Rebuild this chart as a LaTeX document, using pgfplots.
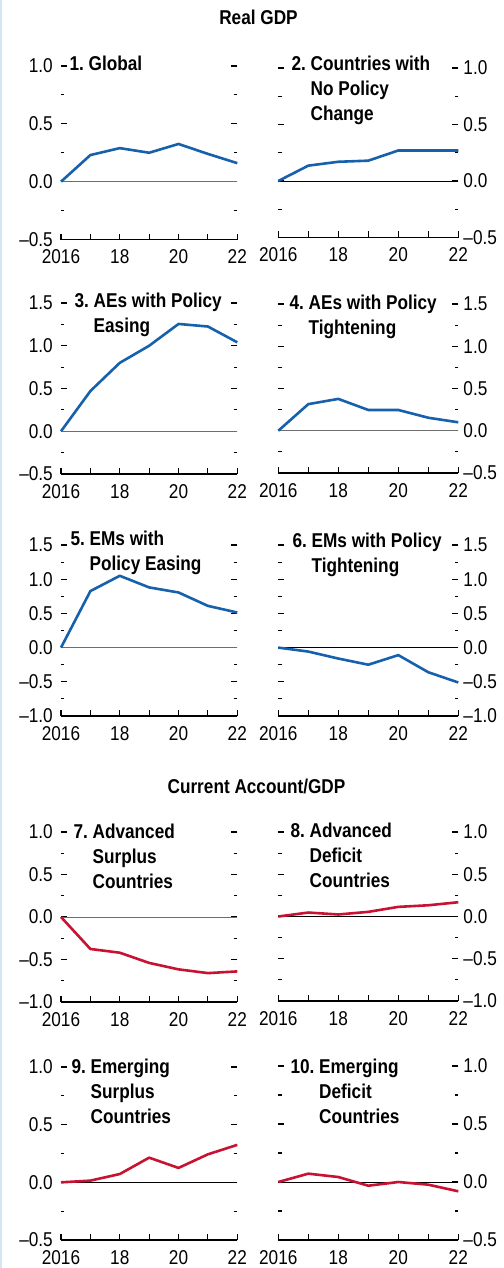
\documentclass[border=0pt]{standalone}
\usepackage{pgfplots}
\pgfplotsset{compat=1.18}
\usepackage{fontspec}
\setmainfont{Liberation Sans}[FakeStretch=0.86]
\definecolor{imfblue}{RGB}{22,96,172}
\definecolor{imfred}{RGB}{200,18,50}
\definecolor{edgeblue}{RGB}{214,229,243}
\definecolor{zgray}{RGB}{110,110,110}
\newcommand\tlfont{\fontsize{20}{24}\selectfont}
\newcommand\hdfont{\fontsize{20}{25}\selectfont\bfseries}
\newcommand\ptitle[2]{\begin{tabular}[t]{@{}l@{\ }l@{}}#1 & #2\end{tabular}}
\pgfplotsset{
  panel/.style={
    scale only axis, anchor=south west,
    xmin=2016, xmax=2022,
    xtick={2016,2017,2018,2019,2020,2021,2022},
    xticklabels={2016,,18,,20,,22},
    xtick pos=left,
    ytick pos=both,
    tick align=inside,
    axis line style={draw=none},
    major tick length=6pt, minor tick length=3.5pt,
    tick style={black, line width=1.1pt},
    minor y tick num=1,
    tick label style={font=\tlfont},
    xticklabel style={inner sep=0pt, yshift=-10pt, anchor=north},
    clip=false,
    after end axis/.code={\draw[black, line width=1.3pt] (rel axis cs:0,0) -- (rel axis cs:1,0);},
  },
  leftp/.style={panel, width=176.3pt, yticklabel pos=left,
    yticklabel style={inner sep=0pt, xshift=-8pt, anchor=east}},
  rightp/.style={panel, width=180pt, yticklabel pos=right,
    yticklabel style={inner sep=0pt, xshift=5pt, anchor=west}},
  rA/.style={ymin=-0.5, ymax=1, ytick={-0.5,0,0.5,1}, yticklabels={–0.5,0.0,0.5,1.0}},
  rB/.style={ymin=-0.5, ymax=1.5, ytick={-0.5,0,0.5,1,1.5}, yticklabels={–0.5,0.0,0.5,1.0,1.5}},
  rC/.style={ymin=-1, ymax=1.5, ytick={-1,-0.5,0,0.5,1,1.5}, yticklabels={–1.0,–0.5,0.0,0.5,1.0,1.5}},
  rD/.style={ymin=-1, ymax=1, ytick={-1,-0.5,0,0.5,1}, yticklabels={–1.0,–0.5,0.0,0.5,1.0}},
  bl/.style={imfblue, line width=2.6pt, line join=round},
  rd/.style={imfred, line width=2.6pt, line join=round},
}
\begin{document}
\begin{tikzpicture}
\useasboundingbox (0pt,0pt) rectangle (503pt,-1268pt);
\fill[edgeblue] (0pt,0pt) rectangle (2pt,-1268pt);
\node[font=\hdfont, anchor=base] at (258.5pt,-25pt) {Real GDP};
\node[font=\hdfont, anchor=base] at (256.5pt,-793pt) {Current Account/GDP};

% Panel 1
\begin{axis}[leftp, rA, at={(61pt,-239.5pt)}, height=173.5pt]
\addplot[zgray, line width=1pt] coordinates {(2016,0) (2022,0)};
\addplot[bl] coordinates {(2016,0) (2017,0.23) (2018,0.29) (2019,0.25) (2020,0.326) (2021,0.24) (2022,0.16)};
\end{axis}
\node[font=\hdfont, anchor=base west] at (66pt,-71pt) {\ptitle{1.}{Global}};

% Panel 2
\begin{axis}[rightp, rA, at={(278.3pt,-237.5pt)}, height=169.5pt]
\addplot[black, line width=1pt] coordinates {(2016,0) (2022,0)};
\addplot[bl] coordinates {(2016,0) (2017,0.136) (2018,0.17) (2019,0.18) (2020,0.27) (2021,0.27) (2022,0.27)};
\end{axis}
\node[font=\hdfont, anchor=base west] at (288pt,-71pt) {\ptitle{2.}{Countries with\\ & No Policy\\ & Change}};

% Panel 3
\begin{axis}[leftp, rB, at={(61pt,-474pt)}, height=171pt]
\addplot[zgray, line width=1pt] coordinates {(2016,0) (2022,0)};
\addplot[bl] coordinates {(2016,0) (2017,0.47) (2018,0.80) (2019,1.0) (2020,1.255) (2021,1.225) (2022,1.04)};
\end{axis}
\node[font=\hdfont, anchor=base west] at (71pt,-307pt) {\ptitle{3.}{AEs with Policy\\ & Easing}};

% Panel 4
\begin{axis}[rightp, rB, at={(278.3pt,-473pt)}, height=169pt]
\addplot[zgray, line width=1pt] coordinates {(2016,0) (2022,0)};
\addplot[bl] coordinates {(2016,0) (2017,0.315) (2018,0.377) (2019,0.246) (2020,0.246) (2021,0.154) (2022,0.10)};
\end{axis}
\node[font=\hdfont, anchor=base west] at (286pt,-309pt) {\ptitle{4.}{AEs with Policy\\ & Tightening}};

% Panel 5
\begin{axis}[leftp, rC, at={(61pt,-716pt)}, height=171pt]
\addplot[zgray, line width=1pt] coordinates {(2016,0) (2022,0)};
\addplot[bl] coordinates {(2016,0) (2017,0.826) (2018,1.05) (2019,0.88) (2020,0.806) (2021,0.61) (2022,0.513)};
\end{axis}
\node[font=\hdfont, anchor=base west] at (67pt,-545pt) {\ptitle{5.}{EMs with\\ & Policy Easing}};

% Panel 6
\begin{axis}[rightp, rC, at={(278.3pt,-716pt)}, height=171pt]
\addplot[black, line width=1pt] coordinates {(2016,0) (2022,0)};
\addplot[bl] coordinates {(2016,0) (2017,-0.058) (2018,-0.16) (2019,-0.25) (2020,-0.11) (2021,-0.36) (2022,-0.51)};
\end{axis}
\node[font=\hdfont, anchor=base west] at (289pt,-547pt) {\ptitle{6.}{EMs with Policy\\ & Tightening}};

% Panel 7
\begin{axis}[leftp, rD, at={(61pt,-1002pt)}, height=170pt]
\addplot[zgray, line width=1pt] coordinates {(2016,0) (2022,0)};
\addplot[rd] coordinates {(2016,0) (2017,-0.376) (2018,-0.42) (2019,-0.54) (2020,-0.616) (2021,-0.66) (2022,-0.64)};
\end{axis}
\node[font=\hdfont, anchor=base west] at (70pt,-838pt) {\ptitle{7.}{Advanced\\ & Surplus\\ & Countries}};

% Panel 8
\begin{axis}[rightp, rD, at={(278.3pt,-1001pt)}, height=169pt]
\addplot[black, line width=1pt] coordinates {(2016,0) (2022,0)};
\addplot[rd] coordinates {(2016,0) (2017,0.047) (2018,0.024) (2019,0.055) (2020,0.114) (2021,0.133) (2022,0.169)};
\end{axis}
\node[font=\hdfont, anchor=base west] at (287pt,-837pt) {\ptitle{8.}{Advanced\\ & Deficit\\ & Countries}};

% Panel 9
\begin{axis}[leftp, rA, at={(61pt,-1240pt)}, height=173pt]
\addplot[black, line width=1pt] coordinates {(2016,0) (2022,0)};
\addplot[rd] coordinates {(2016,0) (2017,0.015) (2018,0.072) (2019,0.214) (2020,0.125) (2021,0.243) (2022,0.325)};
\end{axis}
\node[font=\hdfont, anchor=base west] at (68pt,-1073pt) {\ptitle{9.}{Emerging\\ & Surplus\\ & Countries}};

% Panel 10
\begin{axis}[rightp, rA, at={(278.3pt,-1240pt)}, height=174pt]
\addplot[black, line width=1pt] coordinates {(2016,0) (2022,0)};
\addplot[rd] coordinates {(2016,0) (2017,0.072) (2018,0.043) (2019,-0.032) (2020,0.0) (2021,-0.023) (2022,-0.08)};
\end{axis}
\node[font=\hdfont, anchor=base west] at (287pt,-1073pt) {\ptitle{10.}{Emerging\\ & Deficit\\ & Countries}};
\end{tikzpicture}
\end{document}
